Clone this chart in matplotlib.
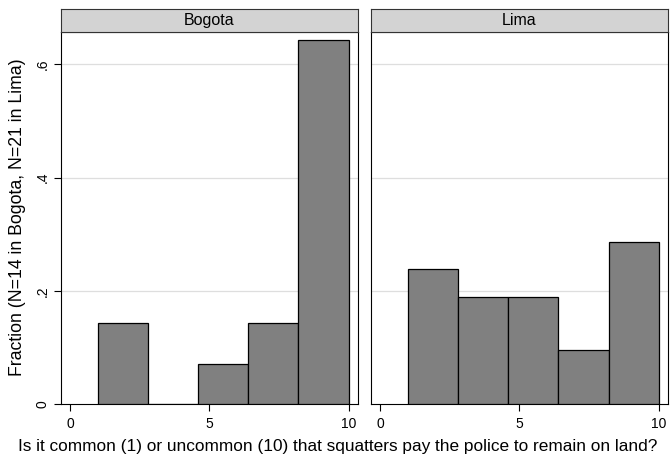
import matplotlib
matplotlib.use("Agg")
import matplotlib.pyplot as plt
import numpy as np

plt.rcParams["font.family"] = ["Liberation Sans", "DejaVu Sans"]

# histogram bins (score 1..10, 5 bins) and fractions per city
bin_edges = [1.0, 2.8, 4.6, 6.4, 8.2, 10.0]
cities = ["Bogota", "Lima"]
frac_bogota = [0.143, 0.0, 0.071, 0.143, 0.643]
frac_lima = [0.238, 0.190, 0.190, 0.095, 0.286]
fractions = [frac_bogota, frac_lima]

x_ticks = [0, 5, 10]
y_ticks = [0, 0.2, 0.4, 0.6]
y_ticklabels = ["0", ".2", ".4", ".6"]

W, H = 672, 462
fig = plt.figure(figsize=(W / 100, H / 100), dpi=100)

# panel boxes in pixels: (left, right)
panels_px = [(60.7, 357.7), (370.7, 668.0)]
top_px, bottom_px, strip_top_px = 31.7, 404.3, 9.3

edges = np.array(bin_edges)
widths = np.diff(edges)

for k, (l, r) in enumerate(panels_px):
    ax = fig.add_axes([l / W, 1 - bottom_px / H, (r - l) / W, (bottom_px - top_px) / H])
    ax.bar(edges[:-1], fractions[k], width=widths, align="edge",
           color="#808080", edgecolor="black", linewidth=0.9, zorder=3)
    ax.set_xlim(-0.33, 10.33)
    ax.set_ylim(0, 0.6575)
    ax.set_xticks(x_ticks)
    ax.set_xticklabels([str(t) for t in x_ticks], fontsize=10)
    ax.set_yticks(y_ticks)
    for y in y_ticks[1:]:
        ax.axhline(y, color="#dedede", linewidth=0.9, zorder=1)
    ax.tick_params(axis="x", length=5, width=0.8, pad=4)
    if k == 0:
        ax.set_yticklabels(y_ticklabels, fontsize=10, rotation=90, va="center")
        ax.tick_params(axis="y", length=5, width=0.8, pad=3)
    else:
        ax.tick_params(axis="y", length=0, labelleft=False)
    for s in ax.spines.values():
        s.set_color("black")
        s.set_linewidth(0.8)

    # strip title
    sax = fig.add_axes([l / W, 1 - top_px / H, (r - l) / W, (top_px - strip_top_px) / H])
    sax.set_facecolor("#d3d3d3")
    sax.set_xticks([]); sax.set_yticks([])
    for s in sax.spines.values():
        s.set_color("#333333")
        s.set_linewidth(0.8)
    sax.text(0.5, 0.5, cities[k], ha="center", va="center", fontsize=11.5, transform=sax.transAxes)

fig.text(18 / W, 1 - 217 / H, "Fraction (N=14 in Bogota, N=21 in Lima)",
         rotation=90, ha="center", va="center", fontsize=12.7)
fig.text(18 / W, 1 - 447 / H,
         "Is it common (1) or uncommon (10) that squatters pay the police to remain on land?",
         ha="left", va="center", fontsize=12.4)

fig.savefig("out.png", dpi=100)
